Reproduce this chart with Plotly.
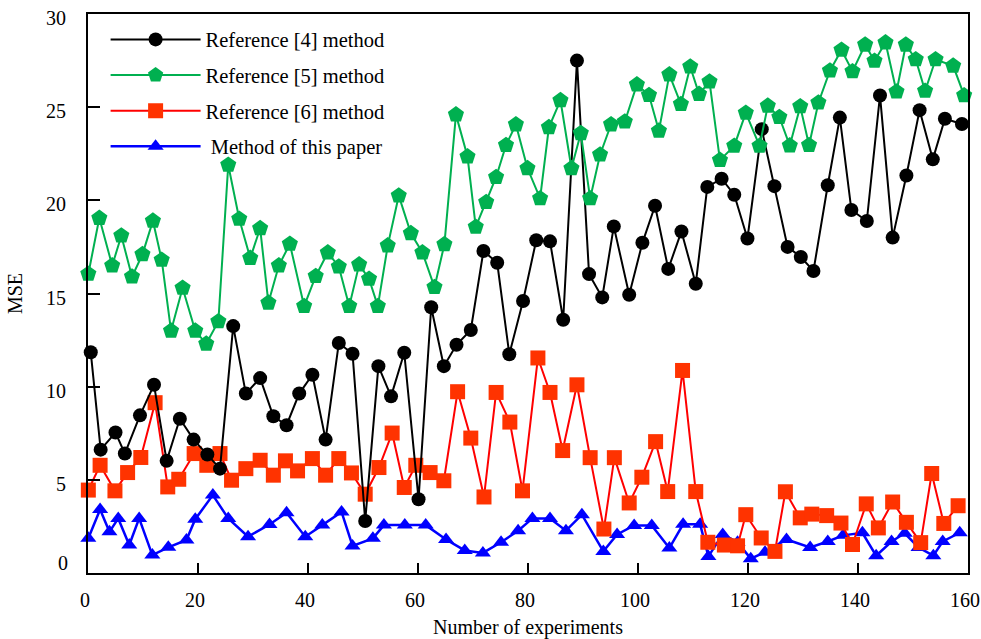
import plotly.graph_objects as go

# ---- data ----
ref4_x = [0.5, 2.3, 5.0, 6.7, 9.45, 12.0, 14.3, 16.7, 19.2, 21.7, 24.0, 26.4, 28.7, 31.3, 33.7, 36.1, 38.4,
          40.8, 43.2, 45.6, 48.1, 50.4, 52.8, 55.1, 57.5, 60.1, 62.4, 64.7, 67.0, 69.6, 71.9, 74.4, 76.6,
          79.1, 81.5, 84.0, 86.4, 88.9, 91.1, 93.5, 95.6, 98.4, 100.8, 103.1, 105.5, 107.9, 110.5, 112.6,
          115.2, 117.5, 119.9, 122.5, 124.8, 127.2, 129.6, 131.9, 134.5, 136.7, 138.8, 141.6, 144.0, 146.3,
          148.8, 151.2, 153.6, 155.8, 158.9]
ref4_y = [11.85, 6.62, 7.54, 6.41, 8.46, 10.1, 6.02, 8.28, 7.16, 6.36, 5.6, 13.25, 9.63, 10.46, 8.41, 7.93, 9.63,
          10.64, 7.16, 12.34, 11.77, 2.79, 11.1, 9.48, 11.82, 3.96, 14.26, 11.1, 12.25, 13.04, 17.28, 16.65, 11.74,
          14.6, 17.86, 17.8, 13.59, 27.5, 16.04, 14.79, 18.6, 14.93, 17.72, 19.71, 16.32, 18.33, 15.52, 20.72,
          21.16, 20.3, 17.95, 23.82, 20.76, 17.5, 16.96, 16.21, 20.81, 24.44, 19.48, 18.89, 25.63, 18.0,
          21.33, 24.84, 22.2, 24.38, 24.1]

ref5_x = [0.06, 2.06, 4.4, 6.06, 8.0, 9.9, 11.8, 13.4, 15.1, 17.2, 19.5, 21.5, 23.7, 25.5, 27.5, 29.5, 31.3,
          32.8, 34.7, 36.7, 39.3, 41.4, 43.6, 45.6, 47.5, 49.3, 51.1, 52.7, 54.5, 56.5, 58.7, 60.8, 63.0,
          64.8, 66.9, 69.0, 70.5, 72.4, 74.2, 76.0, 77.8, 79.9, 82.2, 83.8, 85.9, 87.9, 89.6, 91.3, 93.1,
          95.1, 97.6, 99.8, 102.0, 103.8, 105.7, 107.8, 109.5, 111.1, 113.0, 114.9, 117.5, 119.6, 122.1,
          123.6, 125.7, 127.6, 129.5, 131.1, 132.8, 134.9, 137.0, 139.0, 141.3, 143.0, 145.0, 147.0, 148.7,
          150.5, 152.2, 154.1, 157.3, 159.3]
ref5_y = [16.05, 19.05, 16.5, 18.1, 15.9, 17.1, 18.9, 16.8, 13.0, 15.3, 13.0, 12.3, 13.5, 21.9, 19.0, 16.9, 18.5,
          14.5, 16.5, 17.66, 14.32, 15.93, 17.2, 16.44, 14.32, 16.55, 15.78, 14.32, 17.57, 20.25, 18.23, 17.2, 15.34,
          17.64, 24.6, 22.35, 18.57, 19.9, 21.24, 22.96, 24.07, 21.72, 20.1, 23.92, 25.37, 21.72, 23.6, 20.1, 22.45,
          24.07, 24.22, 26.21, 25.64, 23.73, 26.75, 25.16, 27.17, 25.7, 26.37, 22.16, 22.92, 24.69, 22.92,
          25.07, 24.46, 22.94, 25.04, 22.96, 25.24, 26.96, 28.07, 26.92, 28.35, 27.48, 28.47, 25.83, 28.35,
          27.56, 25.87, 27.56, 27.22, 25.63]

ref6_x = [0.06, 2.2, 4.9, 7.2, 9.6, 12.2, 14.5, 16.5, 19.3, 21.6, 24.0, 26.1, 28.7, 31.3, 33.7, 35.9, 38.1,
          40.8, 43.2, 45.6, 47.9, 50.4, 52.9, 55.3, 57.5, 59.6, 62.2, 64.7, 67.2, 69.6, 72.0, 74.2, 76.7,
          79.0, 81.8, 84.0, 86.3, 88.9, 91.3, 93.8, 95.7, 98.4, 100.7, 103.2, 105.4, 108.1, 110.5, 112.7,
          115.7, 118.1, 119.6, 122.4, 124.9, 126.8, 129.5, 131.6, 134.3, 136.9, 139.0, 141.5, 143.7, 146.3,
          148.8, 151.4, 153.4, 155.6, 158.2]
ref6_y = [4.45, 5.78, 4.41, 5.39, 6.2, 9.14, 4.62, 5.03, 6.41, 5.78, 6.41, 4.98, 5.6, 6.05, 5.25, 6.02, 5.48,
          6.14, 5.25, 6.14, 5.37, 4.23, 5.66, 7.51, 4.59, 5.78, 5.39, 4.95, 9.73, 7.24, 4.08, 9.69, 8.1,
          4.41, 11.54, 9.69, 6.57, 10.1, 6.19, 2.36, 6.19, 3.76, 5.14, 7.05, 4.37, 10.87, 4.37, 1.65,
          1.5, 1.46, 3.13, 1.88, 1.16, 4.36, 2.96, 3.16, 3.08, 2.68, 1.53, 3.71, 2.42, 3.81,
          2.72, 1.63, 5.34, 2.66, 3.61]

ours_x = [0.06, 2.2, 3.9, 5.5, 7.5, 9.3, 11.7, 14.6, 17.9, 19.5, 22.7, 25.5, 29.1, 33.0, 36.1, 39.5, 42.6,
          46.1, 48.1, 51.8, 53.8, 57.6, 61.4, 65.1, 68.5, 71.8, 75.1, 78.2, 80.8, 84.0, 86.9, 89.8, 93.7,
          96.2, 99.3, 102.5, 105.7, 108.2, 111.3, 112.8, 115.4, 118.1, 120.5, 123.1, 127.0, 131.3, 134.5,
          137.3, 140.8, 143.3, 146.1, 148.5, 151.0, 153.7, 155.4, 158.5]
ours_y = [1.86, 3.41, 2.21, 2.93, 1.5, 2.93, 0.96, 1.38, 1.77, 2.89, 4.18, 2.93, 1.95, 2.6, 3.23, 1.95, 2.57,
          3.28, 1.45, 1.86, 2.57, 2.57, 2.57, 1.8, 1.21, 1.08, 1.65, 2.27, 2.93, 2.93, 2.27, 3.13, 1.16,
          2.07, 2.55, 2.55, 1.34, 2.61, 2.61, 0.89, 2.07, 1.65, 0.77, 1.12, 1.8, 1.37, 1.69,
          2.02, 2.16, 0.93, 1.69, 2.13, 1.37, 0.93, 1.69, 2.16]

names = ["Reference [4] method", "Reference [5] method", "Reference [6] method", " Method of this paper"]
x_ticks = [0, 20, 40, 60, 80, 100, 120, 140, 160]
y_ticks = [5, 10, 15, 20, 25, 30]

FONT = "Liberation Serif, Times New Roman, serif"

fig = go.Figure()

# draw order: blue (bottom), red, black, green (top); legend order via legendrank
fig.add_trace(go.Scatter(x=ours_x, y=ours_y, mode="lines+markers", name=names[3],
                         line=dict(color="#0000FF", width=2.5),
                         marker=dict(symbol="triangle-up", size=14, color="#0000FF", line=dict(width=0)),
                         cliponaxis=False, legendrank=4, legendgroup="d"))
fig.add_trace(go.Scatter(x=ref6_x, y=ref6_y, mode="lines+markers", name=names[2],
                         line=dict(color="#FF0000", width=2),
                         marker=dict(symbol="square", size=15, color="#FF3300", line=dict(width=0)),
                         cliponaxis=False, legendrank=3, legendgroup="c"))
fig.add_trace(go.Scatter(x=ref4_x, y=ref4_y, mode="lines+markers", name=names[0],
                         line=dict(color="#000000", width=2),
                         marker=dict(symbol="circle", size=14, color="#000000", line=dict(width=0)),
                         cliponaxis=False, legendrank=1, legendgroup="a"))
fig.add_trace(go.Scatter(x=ref5_x, y=ref5_y, mode="lines+markers", name=names[1],
                         line=dict(color="#00B050", width=2),
                         marker=dict(symbol="pentagon", size=17, color="#00B050", line=dict(width=0)),
                         cliponaxis=False, legendrank=2, legendgroup="b"))

fig.add_annotation(x=0, xref="paper", xanchor="right", xshift=-18,
                   y=0, yref="y", yanchor="middle", yshift=10,
                   text="0", showarrow=False, font=dict(family=FONT, size=20, color="#000"))

fig.update_layout(
    width=981, height=639,
    margin=dict(l=88, r=13, t=14, b=66, autoexpand=False),
    paper_bgcolor="white", plot_bgcolor="white",
    font=dict(family=FONT, size=20, color="#000"),
    showlegend=True,
    legend=dict(x=0.02, y=0.99, xanchor="left", yanchor="top",
                bgcolor="rgba(0,0,0,0)", borderwidth=0,
                font=dict(family=FONT, size=20.5, color="#000"),
                itemwidth=90, tracegroupgap=6, traceorder="grouped"),
)
fig.update_xaxes(range=[0, 160], tickvals=x_ticks, ticks="inside", ticklen=10, tickwidth=2,
                 tickcolor="#000", showline=True, linecolor="#000", linewidth=2, mirror=True,
                 showgrid=False, zeroline=False, ticklabelstandoff=8, automargin=False,
                 ticklabeloverflow="allow", ticklabelshift=-3,
                 tickfont=dict(family=FONT, size=20),
                 title=dict(text="Number of experiments", font=dict(family=FONT, size=20), standoff=11))
fig.update_yaxes(range=[0, 30], tickvals=y_ticks, ticks="inside", ticklen=12, tickwidth=2,
                 tickcolor="#000", showline=True, linecolor="#000", linewidth=2, mirror=True,
                 showgrid=False, zeroline=False, ticklabelstandoff=16, automargin=False,
                 ticklabeloverflow="allow", ticklabelshift=4,
                 tickfont=dict(family=FONT, size=20),
                 title=dict(text="MSE", font=dict(family=FONT, size=20), standoff=18))

# remove the default 8px page margin so the figure fills the window exactly
fig.write_html("out.html", config={"displayModeBar": False},
               post_script="document.body.style.margin='0';")
